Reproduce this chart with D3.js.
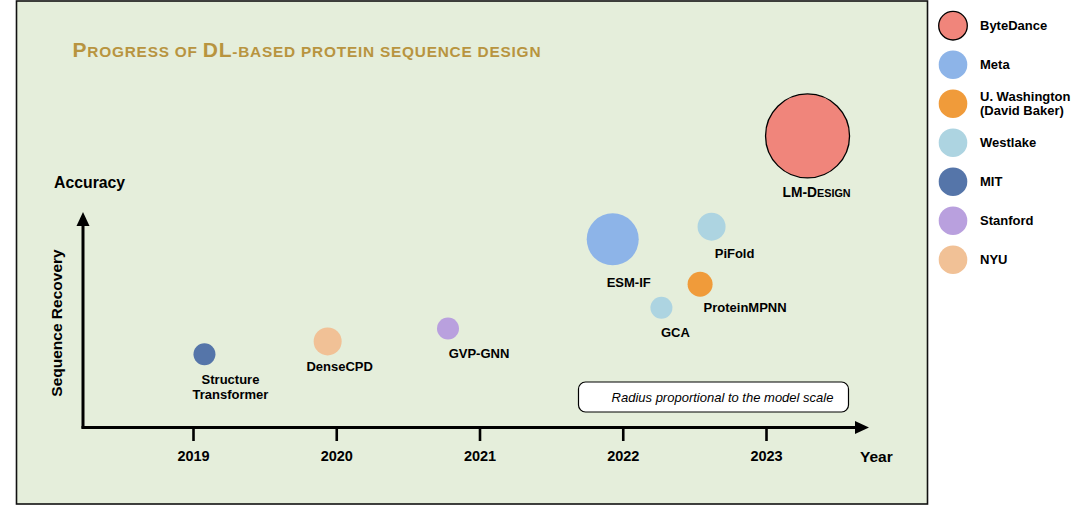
<!DOCTYPE html>
<html><head><meta charset="utf-8">
<script src="https://cdn.jsdelivr.net/npm/d3@7"></script>
<style>
html,body{margin:0;padding:0;background:#fff;}
svg{display:block;font-family:"Liberation Sans",Arial,Helvetica,sans-serif;}
</style></head>
<body>
<svg id="chart" width="1080" height="507"></svg>
<script>
// ---- data ----
const models = ["Structure Transformer","DenseCPD","GVP-GNN","ESM-IF","PiFold","ProteinMPNN","GCA","LM-Design"];
const years = [2019.08, 2019.94, 2020.78, 2021.93, 2022.62, 2022.54, 2022.27, 2023.29];
const accuracy = [34, 40, 46, 87.7, 93.6, 66.7, 55.7, 136];
const modelScale = [11, 14, 11, 26, 14, 12.5, 11, 42];
const orgOfModel = ["MIT","NYU","Stanford","Meta","Westlake","U. Washington","Westlake","ByteDance"];
const orgs = ["ByteDance","Meta","U. Washington","Westlake","MIT","Stanford","NYU"];
const orgLabels = [["ByteDance"],["Meta"],["U. Washington","(David Baker)"],["Westlake"],["MIT"],["Stanford"],["NYU"]];
const orgColors = ["#F0857B","#8DB4E8","#F09B3A","#ADD4E1","#5575A9","#B9A0DE","#F1C196"];
const yearTicks = [2019, 2020, 2021, 2022, 2023];

// ---- layout (label placement relative to each mark) ----
const labelOffsets = [[26,25],[12,25],[31,25],[16,43],[23,27],[45,23],[14,25],[9,57]];

const svg = d3.select("#chart");
const x = d3.scaleLinear().domain([2019, 2023]).range([193, 766]);
const y = d3.scaleLinear().domain([0, 100]).range([427, 213]);
const r = d3.scaleLinear().domain([0, 42]).range([0, 42]);
const color = d3.scaleOrdinal().domain(orgs).range(orgColors);

// panel
svg.append("rect").attr("x",16.5).attr("y",1).attr("width",911).attr("height",503)
  .attr("fill","#E5EEDB").attr("stroke","#111").attr("stroke-width",1.6);

// title (small caps)
const title = svg.append("text").attr("x",72.5).attr("y",57).attr("fill","#B8943F")
  .attr("font-weight","bold");
const parts = [["P",21],["ROGRESS OF ",15.4],["DL",21],["-BASED PROTEIN SEQUENCE DESIGN",15.4]];
parts.forEach(p => title.append("tspan").attr("font-size",p[1]).text(p[0]));
const tl = title.node().getComputedTextLength();
if (Math.abs(tl-468)>3) title.attr("textLength",468).attr("lengthAdjust","spacing");

// axes
const g = svg.append("g");
g.append("line").attr("x1",83).attr("x2",83).attr("y1",428.5).attr("y2",224).attr("stroke","#000").attr("stroke-width",3);
g.append("path").attr("d","M83,212 L76.5,226 L89.5,226 Z").attr("fill","#000");
g.append("line").attr("x1",81.5).attr("x2",857).attr("y1",427.5).attr("y2",427.5).attr("stroke","#000").attr("stroke-width",3);
g.append("path").attr("d","M869,427.5 L855,421 L855,434 Z").attr("fill","#000");

const xAxis = d3.axisBottom(x).tickValues(yearTicks).tickFormat(d3.format("d")).tickSize(13).tickPadding(10);
const ax = svg.append("g").attr("transform","translate(0,428)").call(xAxis);
ax.select(".domain").remove();
ax.selectAll(".tick line").attr("stroke","#000").attr("stroke-width",2.6);
ax.selectAll(".tick text").attr("font-family","Liberation Sans, Arial, sans-serif")
  .attr("font-size",14.5).attr("font-weight","bold").attr("fill","#000");

svg.append("text").attr("x",54).attr("y",188).attr("font-size",15.8).attr("font-weight","bold").text("Accuracy");
svg.append("text").attr("transform","translate(62,323) rotate(-90)").attr("text-anchor","middle")
  .attr("font-size",15.5).attr("font-weight","bold").text("Sequence Recovery");
svg.append("text").attr("x",860).attr("y",462).attr("font-size",15.5).attr("font-weight","bold").text("Year");

// callout
svg.append("rect").attr("x",578.5).attr("y",382).attr("width",270).attr("height",30).attr("rx",7)
  .attr("fill","#fff").attr("stroke","#000").attr("stroke-width",1.2);
svg.append("text").attr("x",722.5).attr("y",401.5).attr("text-anchor","middle").attr("font-size",13)
  .attr("font-style","italic").text("Radius proportional to the model scale");

// bubbles
const pts = models.map((m,i)=>({m, yr:years[i], acc:accuracy[i], s:modelScale[i], org:orgOfModel[i], off:labelOffsets[i]}));
svg.append("g").selectAll("circle").data(pts).join("circle")
  .attr("cx",d=>x(d.yr)).attr("cy",d=>y(d.acc)).attr("r",d=>r(d.s))
  .attr("fill",d=>color(d.org))
  .attr("stroke",d=>d.org==="ByteDance"?"#000":"none").attr("stroke-width",1.3);

const lbl = svg.append("g").selectAll("text").data(pts).join("text")
  .attr("text-anchor","middle").attr("font-size",13).attr("font-weight","bold")
  .attr("transform",d=>`translate(${x(d.yr)+d.off[0]},${y(d.acc)+d.off[1]+4.5})`);
lbl.each(function(d){
  const t = d3.select(this);
  if (d.m === "Structure Transformer") {
    t.append("tspan").attr("x",0).attr("dy",0).text("Structure");
    t.append("tspan").attr("x",0).attr("dy",15).text("Transformer");
  } else if (d.m === "LM-Design") {
    t.append("tspan").attr("font-size",13.8).text("LM-D");
    t.append("tspan").attr("font-size",10.8).text("ESIGN");
  } else {
    t.text(d.m);
  }
});

// legend
const leg = svg.append("g").selectAll("g").data(orgs).join("g")
  .attr("transform",(d,i)=>`translate(953,${25.7+i*39})`);
leg.append("circle").attr("r",14.3).attr("fill",d=>color(d))
  .attr("stroke",d=>d==="ByteDance"?"#000":"none").attr("stroke-width",1.3);
leg.append("text").attr("x",27).attr("font-size",13).attr("font-weight","bold")
  .each(function(d,i){
    const lines = orgLabels[i];
    const t = d3.select(this);
    lines.forEach((l,j)=>t.append("tspan").attr("x",27)
      .attr("y", (j - (lines.length-1)/2)*14.5 + 4.5).text(l));
  });
</script>
</body></html>
